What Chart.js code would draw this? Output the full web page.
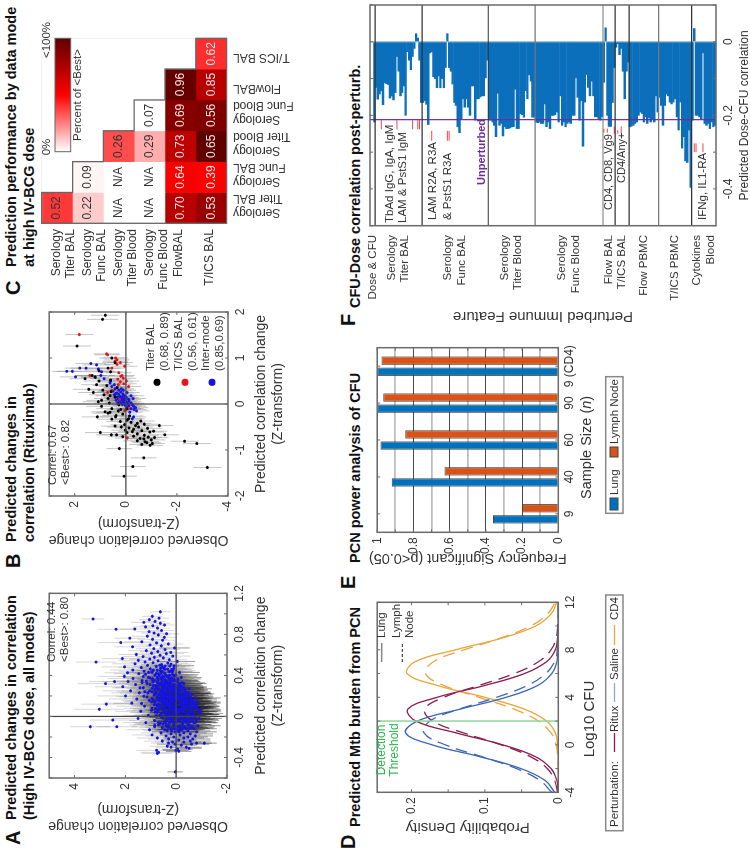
<!DOCTYPE html>
<html>
<head>
<meta charset="utf-8">
<script src="https://cdn.jsdelivr.net/npm/chart.js"></script>
<style>
  html, body { margin: 0; padding: 0; background: #fff; }
  body { width: 750px; height: 850px; overflow: hidden; position: relative; }
  #page { position: absolute; left: 0; top: 0; width: 850px; height: 750px; transform-origin: 0 0;
          transform: translateY(850px) rotate(-90deg); font-family: "Liberation Sans", Arial, sans-serif; color: #111; }
  #page canvas { position: absolute; }
  .letter { position: absolute; font-weight: bold; font-size: 20px; line-height: 20px; }
  .head { position: absolute; font-weight: bold; font-size: 14.5px; line-height: 18px; white-space: nowrap; }
</style>
</head>
<body>
<div id="page">
  <div class="letter" style="left:5px;top:3px">A</div>
  <div class="head" style="left:30px;top:2px">Predicted changes in correlation<br>(High IV-BCG dose, all modes)</div>
  <div class="letter" style="left:282px;top:3px">B</div>
  <div class="head" style="left:308px;top:2px">Predicted changes in<br>correlation (Rituximab)</div>
  <div class="letter" style="left:555px;top:3px">C</div>
  <div class="head" style="left:583px;top:2px">Prediction performance by data mode<br>at high IV-BCG dose</div>
  <div class="letter" style="left:1px;top:338px">D</div>
  <div class="head" style="left:23px;top:346px">Predicted Mtb burden from PCN</div>
  <div class="letter" style="left:261px;top:338px">E</div>
  <div class="head" style="left:287px;top:346px">PCN power analysis of CFU</div>
  <div class="letter" style="left:524px;top:338px">F</div>
  <div class="head" style="left:542px;top:346px">CFU-Dose correlation post-perturb.</div>
</div>
<script>
// panel A: [predicted, observed, half width of the error bar]
const aPoints = [
[-.54,.04,.3],[-.36,.75,.6],[-.35,.7,.7],[-.33,.78,.8],[-.26,-1.1,.5],[-.26,-.8,.6],[-.1,3.38,.8],[-.035,2.5,.9],[-.1,2.34,.8],[.07,3.03,1],[.12,2.75,1],[.53,3.16,.8],[.85,2.37,.7],[.95,3.28,.45],[.72,2.18,.9],[.32,2.78,1.1],[.34,2.43,1],[1.02,.63,.4],
[-.34,-.1,.5],[-.33,.02,.5],[-.32,-.05,.6],[-.31,-.5,.5],[-.3,-.4,.6],[-.3,.2,.6],[-.29,.35,.7],[-.28,-.2,.6],[-.27,-.6,.7],[-.27,.05,.7],[-.26,.3,.7],[-.25,-.3,.7],[-.25,.15,.7],[-.24,-.55,.8],[-.24,.55,.7],[-.23,-.1,.7],[-.22,.3,.8],[-.22,-.65,.7],[-.21,-.3,.8],[-.21,.75,.8],[-.2,.1,.8],[-.2,-.45,.8],[-.19,-.75,.7],[-.19,.4,.8],[-.18,-.15,.8],[-.18,.95,.8],[-.17,-.55,.9],[-.17,.2,.8],[-.16,-.3,.9],[-.16,.6,.8],[-.15,-.8,.8],[-.15,.05,.9],[-.14,.35,.9],[-.14,-.45,.9],[-.13,1.05,.9],[-.13,-.15,.9],[-.12,-.7,.9],[-.12,.2,.9],[-.11,.55,.9],[-.11,-.35,.9],[-.1,.85,.9],[-.1,-.05,.9],[-.09,-.85,.9],[-.09,.3,.9],[-.08,-.5,.9],[-.08,.7,1],[-.07,.1,.9],[-.07,-.25,.9],[-.06,-.75,.9],[-.06,1.2,.9],[-.05,.45,1],[-.05,-.4,1],[-.04,-.1,1],[-.04,.85,1],[-.03,-.65,1],[-.03,.25,1],[-.02,-.9,.9],[-.02,1.5,1],[-.01,.05,1],[-.01,-.35,1],[0,.6,1],[0,-.75,1],[.01,-.15,1],[.01,1.1,1],[.02,-.5,1],[.02,.35,1],[.03,-.95,.9],[.03,.1,1],[.04,.75,1],[.04,-.3,1],[.05,1.4,1],[.05,-.65,1],[.06,.2,1],[.06,-.05,1],[.07,-.85,.9],[.07,.5,1],[.08,-.45,1],[.08,.95,1.1],[.09,.05,1],[.09,-.25,1],[.1,-.7,1],[.1,1.25,1.1],[.11,.35,1],[.11,-.1,1],[.12,-.55,1],[.12,.7,1.1],[.13,1.75,1.1],[.13,-.85,.9],[.14,.15,1],[.14,-.35,1],[.15,.9,1.1],[.15,-.6,1],[.16,.4,1],[.16,-.05,1],[.17,1.55,1.1],[.17,-.25,1],[.18,-.75,1],[.18,.65,1.1],[.19,.1,1],[.19,1.15,1.1],[.2,-.45,1],[.2,2,1.1],[.21,.3,1],[.21,-.15,1],[.22,.85,1.1],[.22,-.6,.9],[.23,1.45,1.1],[.23,.05,1],[.24,.5,1],[.24,-.35,1],[.25,1.8,1.1],[.25,1.05,1.1],[.26,.2,1],[.26,-.1,1],[.27,.7,1.1],[.27,-.5,.9],[.28,1.3,1.1],[.28,.35,1],[.29,2.1,1.1],[.29,-.2,1],[.3,.9,1],[.3,.1,1],[.31,1.6,1.1],[.31,.5,1],[.32,-.3,.9],[.32,1.15,1.1],[.33,.25,1],[.33,.75,1],[.34,1.9,1],[.34,-.05,.9],[.35,.4,1],[.35,1.35,1],[.36,.95,1],[.36,.1,.9],[.37,1.7,1],[.37,.6,1],[.38,-.2,.8],[.38,1.1,1],[.39,.3,.9],[.39,2.05,1],
[.402,.83,1],[.417,1.47,1],[.408,.42,.9],[.426,1.92,.9],[.433,.96,.9],[.429,-.13,.8],[.441,1.27,1],[.447,.63,.9],[.452,1.71,.9],[.458,.18,.8],[.463,1.02,.9],[.471,.47,.9],[.476,1.38,.9],[.483,2.04,.9],[.487,.79,.9],[.494,.09,.8],[.498,1.13,.9],[.506,.58,.8],[.513,1.62,.9],[.519,.33,.8],[.524,.91,.9],[.531,1.23,.9],[.536,-.04,.7],[.542,.72,.8],[.547,1.49,.8],[.553,.27,.7],[.559,1.04,.8],[.564,2.12,.8],[.571,.51,.7],[.576,.86,.7],[.583,1.31,.8],[.588,.14,.7],[.596,.64,.7],[.604,1.57,.7],[.612,.39,.7],[.617,.97,.7],[.624,.21,.7],[.633,.73,.7],[.641,1.18,.7],[.652,.44,.6],[.661,.88,.7],[.668,.07,.6],[.679,1.72,.7],[.688,.59,.6],[.697,1.03,.6],[.706,.31,.6],[.717,.78,.6],[.728,1.36,.7],[.743,.54,.5],[.752,.93,.6],[.763,1.83,.6],[.771,.47,.5],[.782,1.14,.6],[.794,.71,.5],[.806,.38,.5],[.813,.87,.5],[.826,1.07,.5],[.838,.58,.5],[.852,1.63,.6],[.861,.74,.5],[.873,1.21,.5],[.884,.92,.5],[.891,.46,.4],[.908,.63,.4],[.917,1.28,.5],[.926,.83,.4],[.943,1.06,.4],[.958,.68,.4],[.976,.94,.4],
[-.05,-.55,1],[-.02,-.2,1],[.01,.25,1],[.03,-.4,1],[.05,.5,1],[.06,-.95,.8],[.08,-.2,1],[.09,-.6,1],[.1,.15,1],[.11,.75,1],[.12,-.3,1],[.13,.25,1],[.14,-.75,1],[.15,-.15,1],[.16,.55,1],[.17,.15,1],[.18,-.3,1],[.19,.45,1],[.2,-.05,1],[.21,.7,1],[.22,.2,1],[.23,-.45,.9],[.24,.95,1],[.25,.35,1],[.26,.6,1],[.27,.1,1],[.28,-.3,.9],[.29,.45,1],[.3,.25,1],[.31,-.1,.9],[.32,.65,1],[.33,1.35,1],[.34,.4,1],[.35,.05,.9],[.36,.55,1],[.37,.2,.9],[.38,.75,1],[.39,1.3,1],[.4,.4,.9],[.41,.15,.9],[.42,.6,.9],[.43,.95,.9],[.44,.25,.9],[.45,.75,.9],[.46,.45,.9],[.47,.1,.8],[.48,.55,.9],[.49,.25,.8],[.5,.65,.8],[.51,.2,.8],[-.15,-.1,.8],[-.13,.45,.9],[-.11,-.6,.9],[-.09,-.15,.9],[-.07,.4,.9],[-.05,.15,1],[-.03,-.45,1],[-.01,.35,1],[.02,-.7,1],[.04,.05,1],[.06,.75,1],[.07,-.1,1],[.09,.45,1],[.1,-.35,1],[.12,.05,1],[.14,.45,1],[.15,-.4,1],[.17,-.6,1],[.18,.3,1],[.2,.6,1],[.22,-.25,1],[.24,.1,1],[.26,-.35,.9],[.28,.8,1],[.3,-.15,.9]
];
// the thick middle of the cloud
const aCore = [
[.013,-.62,1],[.247,.083,1],[-.063,.268,.9],[.118,.412,1],[.336,.571,1],[-.127,-.233,.9],[.072,-.317,1],[.191,.734,1],[.283,-.062,1],[.024,.146,1],[-.038,-.787,.9],[.156,-.482,.9],[.402,.263,.9],[.093,.627,1],[.229,1.118,1.1],[-.089,.093,1],[.351,.862,1],[.047,-.148,1],[.178,.226,1],[-.016,.533,1],[.267,.487,1],[.138,-.671,.9],[.313,.136,1],[-.112,-.521,.9],[.059,.968,1],[.204,-.276,1],[.377,1.043,1],[.029,-.451,1],[.162,.087,1],[-.058,.707,1],[.296,.318,1],[.109,-.093,1],[.441,.547,.9],[-.144,.186,.9],[.081,-.766,.9],[.238,.612,1],[.017,.421,1],[.186,-.164,1],[.328,-.236,.9],[-.027,-.068,1],[.127,1.362,1.1],[.392,.088,.9],[.067,.233,1],[.213,.376,1],[-.094,-.624,.9],[.274,.953,1],[.149,-.331,1],[.006,.781,1],[.358,.447,1],[.101,-.513,1],[.197,1.274,1.1],[-.043,-.286,1],[.246,-.127,1],[.419,.783,.9],[.034,.047,1],[.171,.518,1],[.308,.667,1],[-.073,.514,1],[.122,-.187,1],[.261,.228,1],[.052,-.873,.9],[.386,.349,.9],[.143,.823,1],[-.108,.327,.9],[.219,-.392,1],[.088,.158,1],[.343,1.182,1],[-.021,-.533,1],[.167,-.044,1],[.293,.541,1],[.046,.352,1],[.433,.164,.9],[.113,-.727,.9],[-.131,-.051,.9],[.231,.788,1],[.071,.688,1],[.366,-.072,.9],[.183,.314,1],[.009,-.236,1],[.279,1.427,1.1],[.134,.036,1],[-.056,-.372,1],[.318,.393,1],[.097,-.418,1],[.206,.142,1],[.452,.908,.9],[-.083,.843,1],[.154,.663,1],[.039,-.078,1],[.254,-.221,1],[.373,.612,.9],[.124,.283,1],[-.012,.184,1],[.189,-.563,.9],[.301,.824,1],[.062,.456,1],[.411,1.213,.9],[-.117,-.407,.9],[.224,.442,1],[.083,-.573,.9],[.339,.227,1],[.146,-.268,1],[.022,.613,1],[.264,.708,1],[.176,.952,1.1],[-.048,-.138,1],[.383,.496,.9],[.106,.344,1],[.239,-.038,1],[.019,-.691,1],[.304,.046,1],[.131,.567,1],[-.068,.621,1],[.201,-.108,1],[.056,.099,1],[.462,.338,.9],[.157,1.063,1.1],[.288,.182,1],[-.099,-.286,.9],[.076,-.234,1],[.347,.723,1],[.214,.273,1],[.031,.297,1],[.172,-.217,1],[.422,.458,.9],[.116,.868,1],[-.034,.378,1],[.257,.563,1],[.091,.022,1],[.322,-.142,.9],[.194,.168,1],[.044,-.603,1],[.368,.937,1],[-.078,-.462,.9],[.136,.492,1],[.276,.392,1],[.012,.003,1],[.226,-.487,.9],[.103,.737,1],[.397,.672,.9],[.161,.373,1],[-.024,-.342,1],[.312,1.028,1],[.069,-.048,1],[.243,.167,1],[.184,.593,1],[.361,.286,.9],[.037,.538,1],[.128,-.432,1],[-.121,.072,.9],[.271,-.084,1],[.094,.272,1],[.209,.863,1],[.329,.458,1],[.016,-.118,1],[.147,.204,1],[.471,.617,.9],[-.061,-.694,.9],[.251,.304,1],[.078,.816,1],[.188,-.347,1],[.406,.027,.9],[.119,-.122,1],[.294,.762,1],[-.006,.237,1],[.164,.738,1],[.354,.143,1],[.054,-.268,1],[.233,.517,1],[.429,1.087,.9],[.099,-.806,.9],[.181,.047,1],[.286,-.192,.9],[-.052,.017,1],[.142,.963,1.1],[.331,.352,1],[.027,-.387,1],[.216,-.068,1],[.491,.438,.8],[.111,.511,1],[.376,.193,.9],[-.091,.392,1],[.259,.848,1],[.173,-.418,1],[.064,.294,1],[.299,.239,1],[.416,.694,.9],[.151,.122,1],[-.004,-.611,1],[.222,.652,1],[.087,-.352,1],[.346,.098,1],[.196,.428,1],[.041,.839,1],[.269,.023,1],[.126,-.583,.9],[.391,.539,.9],[-.036,.143,1],[.169,.287,1],[.307,.596,1],[.074,.073,1],[.241,1.236,1.1],[.437,.291,.9],[.114,.194,1],[-.104,-.163,.9],[.204,.528,1],[.049,-.523,1],[.321,.283,1],[.139,.367,1],[.364,.712,.9],[.084,-.643,.9],[.281,.128,1],[.011,.661,1],[.176,-.076,1],[.447,.129,.9],[.227,-.301,1],[.104,.438,1],[-.018,-.183,1],[.334,.922,1]
];
const aNotes = ["Correl: 0.44", "<Best>: 0.80"];

// panel B, same layout per point
const bTiter = [
[1.93,.81,.55],[1.84,.91,.6],[1.26,1.91,.55],[-.86,-2.78,.55],[-.81,-2.3,.55],[-1.38,-3.19,.55],[-1.17,-.7,.5],[-1.36,-.27,.5],[-1.57,.07,.5],[-.97,.26,.5],[-.28,1.12,.6],[-.62,1,.6],[-.67,.57,.6],[-.67,.37,.6],[-.47,-1.31,.55],[-.67,-1.52,.55],[-.86,-1.03,.5],
[1,.55,.5],[.9,.42,.5],[.78,.7,.5],[.72,1.05,.6],[.62,1.32,.6],[.55,1.6,.6],[.5,1.05,.6],[.42,1.15,.6],[.32,1.45,.6],[.3,.9,.6],[.25,1.28,.6],[.2,.85,.6],[.12,.7,.55],[.08,.95,.6],[.05,1.08,.6],[.02,.65,.6],[-.05,.95,.6],[-.1,.55,.6],[-.15,.3,.55],[-.2,.7,.6],[-.22,.12,.55],[-.28,.4,.6],[-.32,-.1,.55],[-.38,.22,.55],[-.4,-.2,.55],[-.45,.05,.55],[-.47,-.38,.55],[-.5,.18,.55],[-.5,-.5,.55],[-.52,-.12,.55],[-.55,-.3,.55],[-.57,.02,.55],[-.58,-.62,.55],[-.6,-.25,.55],[-.62,-.05,.55],[-.65,-.45,.55],[-.68,-.72,.55],[-.7,-.3,.55],[-.72,-.88,.55],[-.75,-.55,.55],[-.76,-.7,.55],[-.78,-1,.55],[-.8,-.45,.55],[-.82,-.75,.55],[-.84,-.82,.55],[-.88,-.62,.5],[-.9,-.95,.5],[-.42,-.45,.55],[-.35,-.05,.55],[-.25,.38,.55],[-.12,.2,.55],[-.02,.28,.55],[.15,.42,.55],[.35,.35,.55],[.52,.6,.55],[.4,.75,.55],[.58,1.2,.55],[.7,.6,.5],
[-.44,-.72,.55],[-.53,-.85,.55],[-.61,-.94,.55],[-.37,-.58,.55],[-.71,.12,.55],[-.48,.42,.55],[-.33,.55,.55],[-.18,.62,.55],[-.26,-.14,.55],[-.11,-.03,.55],[-.73,-1.12,.55],[-.59,-1.08,.55],[-.17,.82,.55],[.18,.62,.55],[.27,.58,.55]
];
const bTics = [
[1.51,1.82,.55],[1.09,.76,.5],[1.07,.72,.5],[.62,1.41,.55],[-.74,-.06,.5],[1,.4,.5],[.96,.35,.5],[.93,.42,.5],[.9,.22,.5],[.86,.35,.5],[.82,.05,.5],[.78,.55,.5],[.68,.28,.5],[.6,.2,.5],[.56,.1,.5],[.54,.32,.5],[.5,-.02,.5],[.48,.22,.5],[.44,.08,.5],[.42,.3,.5],[.38,-.1,.5],[.3,.55,.5],[.25,.72,.55],[.1,.25,.5],[.62,.15,.5],[-.15,.05,.5],[-.1,-.1,.5]
];
const bInter = [
[.71,2.31,.6],[.71,2.1,.6],[.59,1.97,.6],[.78,1.8,.6],[.78,1.56,.6],[.88,1.37,.6],[.59,1.22,.55],[.85,1.15,.55],[.76,1.08,.55],[.7,.95,.55],[.62,.98,.55],[.55,.85,.55],[.5,.6,.5],[.46,.62,.5],[.42,.45,.5],[.38,.55,.5],[.36,.35,.5],[.33,.42,.5],[.3,.28,.5],[.28,.5,.5],[.26,.2,.5],[.24,.36,.5],[.22,.12,.5],[.21,.28,.5],[.2,.45,.5],[.18,.05,.5],[.17,.25,.5],[.16,.14,.5],[.15,.35,.5],[.14,-.02,.5],[.13,.2,.5],[.12,.08,.5],[.11,.3,.5],[.1,-.1,.5],[.09,.15,.5],[.08,.02,.5],[.07,.25,.5],[.06,-.12,.5],[.05,.1,.5],[.04,-.03,.5],[.03,.2,.5],[.02,-.2,.5],[.01,.05,.5],[0,-.08,.5],[-.01,.14,.5],[-.02,-.25,.5],[-.03,.02,.5],[-.04,-.12,.5],[-.05,-.3,.5],[-.07,-.05,.5],[-.08,-.38,.5],[-.1,-.2,.5],[-.12,-.32,.5],[-.15,-.42,.5],[-.18,-.15,.5],[-.28,-.3,.5],[-.32,-.25,.5],[.25,-.05,.5],[.18,-.2,.5],[.3,.1,.5],[.33,.18,.5],[.12,-.28,.5],[.22,.4,.5],[.08,.38,.5],[.03,.32,.5]
];
const bNotes = ["Correl: 0.67", "<Best>: 0.82"];
const bLegend = [["Titer BAL", "(0.68, 0.89)"], ["T/ICS BAL", "(0.56, 0.61)"], ["Inter-mode", "(0.85,0.69)"]];

// panel C
const modes = [["Serology", "Titer BAL"], ["Serology", "Func BAL"], ["Serology", "Titer Blood"], ["Serology", "Func Blood"], ["FlowBAL"], ["T/ICS BAL"]];
const heatText = [
  ["0.52"],
  ["0.22", "0.09"],
  ["N/A", "N/A", "0.26"],
  ["N/A", "N/A", "0.29", "0.07"],
  ["0.70", "0.64", "0.73", "0.69", "0.96"],
  ["0.53", "0.39", "0.65", "0.56", "0.85", "0.62"],
];
// percent of <Best>
const heatPct = [
  [.39],
  [.1, .02],
  [0, 0, .35],
  [0, 0, .16, 0],
  [.72, .52, .7, .88, .98],
  [.82, .5, 1, .9, .72, .41],
];

// panel D
const cfuX = [-4, -3, -2, -1, 0, 1, 2, 3, 4, 5, 6, 7, 8, 9, 10, 11, 12];
const salineLung = [.005, .018, .051, .107, .172, .208, .192, .134, .071, .028, .009, .002, .001, 0, 0, 0, 0];
const salineNode = [.009, .025, .057, .104, .154, .183, .175, .135, .084, .042, .017, .005, .001, 0, 0, 0, 0];
const rituxLung = [0, .002, .01, .031, .076, .139, .194, .205, .165, .1, .046, .016, .004, .001, 0, 0, 0];
const rituxNode = [.001, .005, .015, .038, .078, .129, .171, .182, .156, .108, .06, .027, .01, .003, .001, 0, 0];
const cd4Lung = [0, 0, 0, 0, .001, .004, .016, .046, .1, .165, .206, .195, .14, .076, .031, .01, .002];
const cd4Node = [0, 0, 0, .001, .003, .01, .027, .06, .108, .156, .181, .17, .128, .078, .038, .015, .004];
const detectionLimit = 2;

// panel E
const sampleSizes = ["9", "40", "60", "90", "9 (CD4)"];
const freqLung = [.36, .92, .982, 1, 1];
const freqNode = [.2, .629, .845, .967, .976];

// panel F
const featureGroups = ["Dose & CFU", "Serology Titer BAL", "Serology Func BAL", "Serology Titer Blood", "Serology Func Blood", "Flow BAL", "T/ICS BAL", "Flow PBMC", "T/ICS PBMC", "Cytokines Blood"];
const doseCfu = [0, 0, -.218];
const titerBal = [-.124,-.156,-.142,-.133,-.171,-.111,-.114,-.116,-.153,-.147,-.158,-.138,-.04,-.08,-.147,-.138,-.12,-.2,-.027,-.05,-.076,-.04,-.018,.022,.01,-.05,-.165];
const funcBal = [-.165,-.16,-.17,-.225,-.03,-.027,-.095,-.1,-.125,-.093,-.125,-.1,-.125,-.07,.022,-.07,-.08,-.115,-.165,-.173,-.231,-.247,-.21,-.155,-.178,-.155,-.178,-.2,-.12,-.12,-.213,-.155,-.155,-.15,-.147,-.147,-.098,-.05];
const titerBlood = [-.213,-.213,-.218,-.227,-.258,-.14,-.227,-.222,-.256,-.231,-.236,-.236,-.234,-.231,-.231,-.129,-.236,-.236,-.196,-.198,-.205,-.133,-.155,-.09,-.107,-.205,-.205];
const funcBlood = [-.218,-.22,-.218,-.222,-.222,-.169,-.231,-.218,-.236,-.2,-.2,-.198,-.191,-.218,-.147,-.227,-.218,-.231,-.222,-.218,-.222,-.2,-.2,-.098,-.151,-.213,-.16,-.284,-.164,-.089,-.124,-.147,-.107,-.147,-.204,-.204,-.209,-.213,-.204];
const flowBal = [-.11,.038,-.2,-.23,-.23,-.165,-.07];
const ticsBal = [-.015,-.005,-.035,-.018,-.08,-.155,-.08,-.055];
const flowPbmc = [-.231,-.229,-.227,-.222,-.218,-.2,-.191,-.195,-.218,-.204,-.222,-.206,-.218,-.209,-.218,-.147,-.191];
const ticsPbmc = [-.151,-.173,-.227,-.173,-.142,-.147,-.164,-.169,-.164,-.155,-.204,-.24,-.164,-.289,-.258,-.324,-.328,-.24,-.396];
const cytokines = [-.213,.036,-.2,-.2,-.204,-.209,-.03,-.222,-.227,-.222,-.236,-.218,-.231,-.227];
const featureSets = [doseCfu, titerBal, funcBal, titerBlood, funcBlood, flowBal, ticsBal, flowPbmc, ticsPbmc, cytokines];
const unperturbed = -.2117;
// red marks next to the named features: feature number, value from, value to
const redMarks = [[6,-.213,-.238],[15,-.213,-.238],[24,-.213,-.238],[27,-.213,-.238],[28,-.213,-.238],[35,-.242,-.269],[44,-.242,-.269],[45,-.242,-.269],[134,-.236,-.247],[136,-.236,-.247],[140,-.23,-.25],[142,-.24,-.25],[144,-.23,-.25],[186,-.276,-.3],[187,-.276,-.3],[191,-.276,-.3]];

const font = '"Liberation Sans", Arial, sans-serif';
const ink = "#333", frame = "#6a6a6a";
const pageEl = document.getElementById("page");

function addCanvas(left, top, w, h) {
  const cv = document.createElement("canvas");
  cv.width = w; cv.height = h;
  cv.style.left = left + "px"; cv.style.top = top + "px";
  cv.style.width = w + "px"; cv.style.height = h + "px";
  pageEl.appendChild(cv);
  return cv;
}

// text in page coordinates
function txt(c, s, x, y, o = {}) {
  const g = c.ctx, cv = c.canvas;
  g.save();
  g.translate(x - cv.offsetLeft, y - cv.offsetTop);
  if (o.rot) g.rotate(o.rot);
  g.font = (o.weight || "") + " " + (o.size || 12) + "px " + font;
  g.fillStyle = o.color || ink;
  g.textAlign = o.align || "left";
  g.textBaseline = "middle";
  g.fillText(s, 0, 0);
  g.restore();
}

function seg(c, x1, y1, x2, y2, color, w, dash) {
  const g = c.ctx;
  g.save();
  g.strokeStyle = color; g.lineWidth = w || 1;
  if (dash) g.setLineDash(dash);
  g.beginPath(); g.moveTo(x1, y1); g.lineTo(x2, y2); g.stroke();
  g.restore();
}

// plot frame with inward ticks on all sides
function boxed(c, noYTicks) {
  const a = c.chartArea, g = c.ctx;
  const sx = c.scales.x, sy = c.scales.y;
  sx.ticks.forEach((t, i) => {
    const p = sx.getPixelForTick(i);
    seg(c, p, a.bottom, p, a.bottom - 3, frame); seg(c, p, a.top, p, a.top + 3, frame);
  });
  if (!noYTicks) sy.ticks.forEach((t, i) => {
    const p = sy.getPixelForTick(i);
    seg(c, a.left, p, a.left + 3, p, frame); seg(c, a.right, p, a.right - 3, p, frame);
  });
  g.save();
  g.strokeStyle = frame; g.lineWidth = 1.5;
  g.strokeRect(a.left, a.top, a.right - a.left, a.bottom - a.top);
  g.restore();
}

function numAxis(min, max, step, shown, size, title, titleSize) {
  return {
    type: "linear", min, max,
    grid: { display: false, drawTicks: false }, border: { display: false },
    ticks: {
      stepSize: step, includeBounds: false, color: ink, font: { family: font, size: 12 },
      padding: 5, maxRotation: 0, autoSkip: false,
      callback: (v) => { const r = Math.round(v * 1000) / 1000; return shown.includes(r) ? String(r) : ""; },
    },
    title: { display: !!title, text: title, color: ink, font: { family: font, size: titleSize || 14, lineHeight: 1.25 }, padding: 0 },
    afterFit: (s) => { if (s.isHorizontal()) s.height = size; else s.width = size; },
  };
}

function base(padding, scales) {
  return { responsive: false, animation: false, devicePixelRatio: 1, layout: { padding }, scales,
    plugins: { legend: { display: false }, tooltip: { enabled: false } } };
}

function whiskers(pts, color) {
  return (c) => {
    const sx = c.scales.x, sy = c.scales.y, g = c.ctx;
    g.save();
    g.beginPath(); g.rect(c.chartArea.left, c.chartArea.top, c.chartArea.width, c.chartArea.height); g.clip();
    g.strokeStyle = color; g.lineWidth = 1;
    pts.forEach((p) => {
      const x = sx.getPixelForValue(p[0]);
      g.beginPath(); g.moveTo(x, sy.getPixelForValue(p[1] - p[2])); g.lineTo(x, sy.getPixelForValue(p[1] + p[2])); g.stroke();
    });
    g.restore();
  };
}

function crossHair(c) {
  const a = c.chartArea, x0 = c.scales.x.getPixelForValue(0), y0 = c.scales.y.getPixelForValue(0);
  seg(c, x0, a.top, x0, a.bottom, "#444", 1.2);
  seg(c, a.left, y0, a.right, y0, "#444", 1.2);
}

const toXY = (p) => ({ x: p[0], y: p[1] });
const YTITLE = ["Observed correlation change", "(Z-transform)"];
const XTITLE = ["Predicted correlation change", "(Z-transform)"];

// A
const aAll = aPoints.concat(aCore);
const aLight = whiskers(aAll, "rgba(40,40,40,.18)");
// error bars overlap most in the low half of the cloud
const aDark = whiskers(aAll.filter((p) => p[1] < .1), "rgba(20,20,20,.3)");
new Chart(addCanvas(15, 37, 255, 250), {
  type: "scatter",
  data: { datasets: [{ data: aAll.map(toXY), backgroundColor: "#1414e6", pointRadius: 1.5, borderWidth: 0 }] },
  options: base({ top: 5, right: 12 }, {
    x: numAxis(-.6, 1.2, .2, [-.4, 0, .4, .8, 1.2], 60, XTITLE),
    y: numAxis(-2, 5, 2, [-2, 0, 2, 4], 57, YTITLE),
  }),
  plugins: [{
    id: "a",
    beforeDatasetsDraw(c) { aLight(c); aDark(c); },
    afterDatasetsDraw: crossHair,
    afterDraw(c) {
      boxed(c);
      txt(c, aNotes[0], 188, 52, { size: 11.5 });
      txt(c, aNotes[1], 188, 65, { size: 11.5 });
    },
  }],
});

// B
new Chart(addCanvas(301, 37, 251, 250), {
  type: "scatter",
  data: { datasets: [
    { data: bTiter.map(toXY), backgroundColor: "#000", pointRadius: 1.5, borderWidth: 0 },
    { data: bTics.map(toXY), backgroundColor: "#e8141c", pointRadius: 1.5, borderWidth: 0 },
    { data: bInter.map(toXY), backgroundColor: "#1414e6", pointRadius: 1.5, borderWidth: 0 },
  ] },
  options: base({ top: 7, right: 14 }, {
    x: numAxis(-2, 2, 1, [-2, -1, 0, 1, 2], 59, XTITLE),
    y: numAxis(-4, 3, 2, [-4, -2, 0, 2], 53, YTITLE),
  }),
  plugins: [{
    id: "b",
    beforeDatasetsDraw: whiskers(bTiter.concat(bTics, bInter), "rgba(90,90,90,.34)"),
    afterDatasetsDraw: crossHair,
    afterDraw(c) {
      boxed(c);
      txt(c, bNotes[0], 365, 53, { size: 11.5 });
      txt(c, bNotes[1], 365, 66, { size: 11.5 });
      const dots = ["#000", "#e8141c", "#1414e6"], ys = [157, 185, 212];
      bLegend.forEach((l, i) => {
        const g = c.ctx, cv = c.canvas;
        g.save(); g.fillStyle = dots[i]; g.beginPath();
        g.arc(467.7 - cv.offsetLeft, ys[i] - cv.offsetTop, 3.6, 0, Math.PI * 2); g.fill(); g.restore();
        txt(c, l[0], 479, ys[i] - 6.5, { size: 11.5 });
        txt(c, l[1], 479, ys[i] + 7.5, { size: 11.5 });
      });
    },
  }],
});

// C: cells are floating bars, one dataset per row
const stops = [[0, [255, 255, 255]], [.5, [255, 0, 0]], [1, [96, 0, 0]]];
function heatColor(p) {
  const k = p <= .5 ? 0 : 1, t = (p - stops[k][0]) / (stops[k + 1][0] - stops[k][0]);
  const rgb = stops[k][1].map((v, i) => Math.round(v + (stops[k + 1][1][i] - v) * t));
  return "rgb(" + rgb.join(",") + ")";
}
new Chart(addCanvas(560, 35, 272, 270), {
  type: "bar",
  data: {
    labels: modes.map((m) => m.join(" ")),
    datasets: heatPct.map((row, r) => ({
      data: modes.map((m, j) => (j < row.length ? [r, r + 1] : null)),
      backgroundColor: modes.map((m, j) => (j < row.length ? heatColor(row[j]) : "#fff")),
      borderWidth: 0, barPercentage: 1, categoryPercentage: 1, grouped: false,
    })),
  },
  options: base({ left: 66.7, top: 6.7, right: 20.3, bottom: 78.3 }, {
    x: { display: false },
    y: { display: false, min: 0, max: 6, reverse: true },
  }),
  plugins: [{
    id: "c",
    afterDraw(c) {
      const sx = c.scales.x, sy = c.scales.y, g = c.ctx, a = c.chartArea, cv = c.canvas;
      const ox = cv.offsetLeft, oy = cv.offsetTop;
      const colW = sx.getPixelForValue(1) - sx.getPixelForValue(0);
      const rowH = (a.bottom - a.top) / 6;
      // values
      heatText.forEach((row, r) => row.forEach((s, j) => {
        txt(c, s, sx.getPixelForValue(j) + ox, sy.getPixelForValue(r + .5) + oy, { size: 12, align: "center",
          color: heatPct[r][j] > .4 ? "#f7e6e6" : "#333" });
      }));
      // stair outline
      seg(c, a.left, a.top, a.right, a.top, "#eee", 1);
      seg(c, a.right, a.top, a.right, a.top + 5 * rowH, "#eee", 1);
      g.save(); g.strokeStyle = "#666"; g.lineWidth = 1.3; g.beginPath();
      g.moveTo(a.left, a.top);
      for (let i = 1; i <= 6; i++) {
        g.lineTo(a.left + i * colW, a.top + (i - 1) * rowH);
        g.lineTo(a.left + i * colW, a.top + i * rowH);
      }
      g.lineTo(a.left, a.bottom); g.closePath(); g.stroke(); g.restore();
      // row and column names
      modes.forEach((m, i) => {
        const cy = sy.getPixelForValue(i + .5) + oy, cx = sx.getPixelForValue(i) + ox;
        if (m.length > 1) {
          txt(c, m[0], 621, cy, { size: 12, align: "right" });
          txt(c, m[1], 621, cy + 14, { size: 12, align: "right" });
          txt(c, m[0], cx - 4, 233, { size: 12, align: "right", rot: -Math.PI / 2 });
          txt(c, m[1], cx + 10, 233, { size: 12, align: "right", rot: -Math.PI / 2 });
        } else {
          txt(c, m[0], 621, cy - 2, { size: 12, align: "right" });
          txt(c, m[0], cx - 4, 233, { size: 12, align: "right", rot: -Math.PI / 2 });
        }
      });
      // colour bar
      const bx1 = 698.3 - ox, bx2 = 811.7 - ox, by = 55 - oy, bh = 15.7;
      const grad = g.createLinearGradient(bx1, 0, bx2, 0);
      stops.forEach((s) => grad.addColorStop(s[0], "rgb(" + s[1].join(",") + ")"));
      g.save(); g.fillStyle = grad; g.fillRect(bx1, by, bx2 - bx1, bh);
      g.strokeStyle = "#666"; g.lineWidth = 1; g.strokeRect(bx1, by, bx2 - bx1, bh); g.restore();
      txt(c, "0%", 703, 47, { size: 11.5, align: "center" });
      txt(c, "<100%", 810, 47, { size: 11.5, align: "center" });
      txt(c, "Percent of <Best>", 755, 78, { size: 11.5, align: "center" });
    },
  }],
});

// D
const lineSet = (ys, color, dash) => ({
  data: ys.map((y, i) => ({ x: cfuX[i], y })), showLine: true, pointRadius: 0, tension: .4,
  borderColor: color, borderWidth: 1.3, borderDash: dash || [], fill: false,
});
const dashes = [12, 7];
new Chart(addCanvas(13, 365, 250, 265), {
  type: "scatter",
  data: { datasets: [
    lineSet(salineNode, "#3a66b5", dashes), lineSet(salineLung, "#3a66b5"),
    lineSet(rituxNode, "#8c1d4f", dashes), lineSet(rituxLung, "#8c1d4f"),
    lineSet(cd4Node, "#eaa53c", dashes), lineSet(cd4Lung, "#eaa53c"),
  ] },
  options: base({ top: 8.3, right: 15.3 }, {
    x: numAxis(-4, 12, 2, [-4, 0, 4, 8, 12], 71.7),
    y: numAxis(0, .2467, .05, [0, .1, .2], 44.7, "Probability Density", 15),
  }),
  plugins: [{
    id: "d",
    afterDatasetsDraw(c) {
      const a = c.chartArea, x = c.scales.x.getPixelForValue(detectionLimit);
      seg(c, x, a.top, x, a.bottom, "#8fd69a", 1.5);
    },
    afterDraw(c) {
      boxed(c);
      txt(c, "Detection", 100, 381.7, { size: 12, align: "center", color: "#2db84d" });
      txt(c, "Threshold", 100, 395, { size: 12, align: "center", color: "#2db84d" });
      const ox = c.canvas.offsetLeft, oy = c.canvas.offsetTop;
      seg(c, 188 - ox, 381.7 - oy, 207 - ox, 381.7 - oy, "#888", 1.5);
      seg(c, 188 - ox, 402.3 - oy, 207 - ox, 402.3 - oy, "#222", 1, [3, 2]);
      txt(c, "Lung", 212, 381.7, { size: 11.5 });
      txt(c, "Lymph", 212, 396.7, { size: 11.5 });
      txt(c, "Node", 212, 410, { size: 11.5 });
      txt(c, "Log10 CFU", 131, 590, { size: 15, align: "center" });
      // legend strip
      const g = c.ctx;
      g.save(); g.strokeStyle = "#888"; g.lineWidth = 1.5; g.strokeRect(19.3 - ox, 605.7 - oy, 235.7, 17.3); g.restore();
      txt(c, "Perturbation:", 23, 614.5, { size: 11.5 });
      [[98, 117, "#8c1d4f", "Ritux", 118], [148, 167, "#8eaad6", "Saline", 170], [205, 225, "#eaa53c", "CD4", 230]].forEach((l) => {
        seg(c, l[0] - ox, 614.5 - oy, l[1] - ox, 614.5 - oy, l[2], 1.3);
        txt(c, l[3], l[4], 614.5, { size: 11.5 });
      });
    },
  }],
});

// E
const freqAxis = numAxis(0, 1, .1, [0, .2, .4, .6, .8, 1], 34.7, "Frequency Significant (p<0.05)", 14.5);
freqAxis.grid = {
  display: true, drawTicks: false,
  color: (k) => (Math.round(k.tick.value * 10) % 2 ? "#bdbdbd" : "#4a4a4a"),
  lineWidth: (k) => (Math.round(k.tick.value * 10) % 2 ? 1.8 : 1),
};
new Chart(addCanvas(283, 365, 230, 265), {
  type: "bar",
  data: { labels: sampleSizes, datasets: [
    { label: "Lung", data: freqLung, backgroundColor: "#0072bd", borderColor: "#444", borderWidth: 1, barPercentage: .76, categoryPercentage: .6 },
    { label: "Lymph Node", data: freqNode, backgroundColor: "#d95319", borderColor: "#444", borderWidth: 1, barPercentage: .76, categoryPercentage: .6 },
  ] },
  options: base({ top: 8.3, right: 10.7 }, {
    x: {
      type: "category", grid: { display: false, drawTicks: false }, border: { display: false },
      ticks: { color: ink, font: { family: font, size: 12 }, padding: 4, maxRotation: 0, autoSkip: false },
      afterFit: (s) => { s.height = 71.7; },
    },
    y: freqAxis,
  }),
  plugins: [{
    id: "e",
    afterDraw(c) {
      boxed(c);
      const ox = c.canvas.offsetLeft, oy = c.canvas.offsetTop, g = c.ctx;
      txt(c, "Sample Size (", 351, 587, { size: 14.5 });
      g.save(); g.font = "14.5px " + font;
      const w = g.measureText("Sample Size (").width; g.font = "italic 14.5px " + font;
      const w2 = g.measureText("n").width; g.restore();
      g.save(); g.font = "italic 14.5px " + font; g.fillStyle = ink; g.textBaseline = "middle";
      g.fillText("n", 351 + w - ox, 587 - oy); g.restore();
      txt(c, ")", 351 + w + w2, 587, { size: 14.5 });
      g.save(); g.strokeStyle = "#888"; g.lineWidth = 1.5; g.strokeRect(336.7 - ox, 605.7 - oy, 136.6, 17.3);
      g.fillStyle = "#0072bd"; g.fillRect(340 - ox, 610 - oy, 12, 8); g.strokeStyle = "#444"; g.lineWidth = 1; g.strokeRect(340 - ox, 610 - oy, 12, 8);
      g.fillStyle = "#d95319"; g.fillRect(393 - ox, 610 - oy, 10, 8); g.strokeRect(393 - ox, 610 - oy, 10, 8); g.restore();
      txt(c, "Lung", 355, 614.5, { size: 11.5 });
      txt(c, "Lymph Node", 406, 614.5, { size: 11.5 });
    },
  }],
});

// F
const featureValues = featureSets.flat();
const featureNames = featureSets.flatMap((set, k) => set.map((v, i) => featureGroups[k] + " " + (i + 1)));
const valueAxis = numAxis(-.5, .1, .1, [0, -.2, -.4], 36, "Predicted Dose-CFU correlation", 12);
new Chart(addCanvas(525, 362, 325, 390), {
  type: "bar",
  data: { labels: featureNames, datasets: [{ data: featureValues, backgroundColor: "#0b6fbb", borderWidth: 0, barPercentage: 1, categoryPercentage: 1 }] },
  options: Object.assign(base({ top: 8, right: 1.7 }, {
    x: Object.assign(valueAxis, { position: "bottom" }),
    y: {
      type: "category", grid: { display: false, drawTicks: false }, border: { display: false },
      ticks: { display: false, autoSkip: false },
      title: { display: true, text: "Perturbed Immune Feature", color: ink, font: { family: font, size: 15 }, padding: 0 },
      afterFit: (s) => { s.width = 99.3; },
    },
  }), { indexAxis: "y" }),
  plugins: [{
    id: "f",
    afterDatasetsDraw(c) {
      const a = c.chartArea, sx = c.scales.x, sy = c.scales.y;
      const x0 = sx.getPixelForValue(0);
      seg(c, x0, a.top, x0, a.bottom, "#b7cfe3", 1);
      redMarks.forEach((m) => {
        const y = sy.getPixelForValue(m[0]);
        seg(c, sx.getPixelForValue(m[1]), y, sx.getPixelForValue(m[2]), y, "#f0454a", 1);
      });
      const xu = sx.getPixelForValue(unperturbed);
      seg(c, xu, a.top, xu, a.bottom, "#6f2a9e", 1.2);
      let n = 0;
      featureSets.forEach((set, k) => {
        n += set.length;
        if (k < featureSets.length - 1) {
          const y = sy.getPixelForValue(n - .5);
          seg(c, a.left, y, a.right, y, [3, 4, 7].includes(k) ? "#777" : "#333", 1.2);
        }
      });
    },
    afterDraw(c) {
      boxed(c, true);
      const ox = c.canvas.offsetTop, sy = c.scales.y;
      let n = 0;
      const names = [["Dose & CFU"], ["Serology", "Titer BAL"], ["Serology", "Func BAL"], ["Serology", "Titer Blood"], ["Serology", "Func Blood"], ["Flow BAL"], ["T/ICS BAL"], ["Flow PBMC"], ["T/ICS PBMC"], ["Cytokines", "Blood"]];
      featureSets.forEach((set, k) => {
        const mid = sy.getPixelForValue(n + set.length / 2 - .5) + ox;
        n += set.length;
        if (names[k].length > 1) {
          txt(c, names[k][0], 615, mid - 7, { size: 11.5, align: "right" });
          txt(c, names[k][1], 615, mid + 6.5, { size: 11.5, align: "right" });
        } else {
          txt(c, names[k][0], 615, mid, { size: 11.5, align: "right" });
        }
      });
      txt(c, "TbAd IgG, IgA, IgM", 627, 390, { size: 11.5 });
      txt(c, "LAM & PstS1 IgM", 627, 403.3, { size: 11.5 });
      txt(c, "LAM R2A, R3A", 630, 433.3, { size: 11.5 });
      txt(c, "& PstS1 R3A", 630, 448.3, { size: 11.5 });
      txt(c, "Unperturbed", 665, 482.3, { size: 11, weight: "bold", color: "#6f2a9e" });
      txt(c, "CD4, CD8, Vg9", 640, 609.3, { size: 11 });
      txt(c, "CD4/Any+", 667, 621.7, { size: 11 });
      txt(c, "IFNg, IL1-RA", 630, 702.7, { size: 11.5 });
    },
  }],
});
</script>
</body>
</html>
